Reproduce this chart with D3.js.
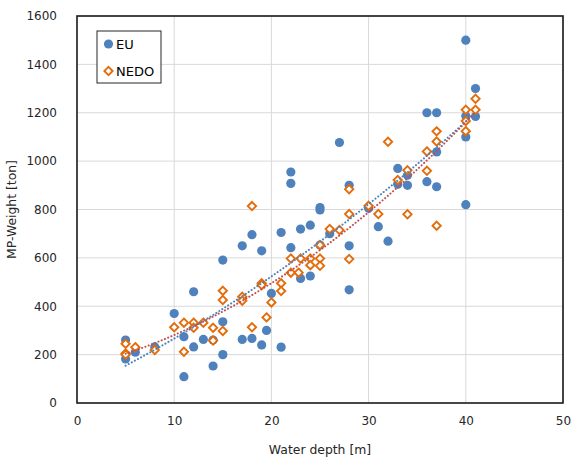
<!DOCTYPE html>
<html>
<head>
<meta charset="utf-8">
<script src="https://cdn.jsdelivr.net/npm/d3@7"></script>
<style>
  body { margin: 0; background: white; }
  svg { font-family: "DejaVu Sans", Verdana, sans-serif; }
</style>
</head>
<body>
<script>
// EU data : water depth [m] / MP weight [ton]
var euDepth  = [5, 5, 6, 8, 10, 11, 11, 12, 12, 13, 14, 14, 15, 15, 15, 17, 17, 18, 18, 19, 19, 19.5, 20, 21, 21, 22, 22, 22, 23, 23, 24, 24, 25, 25, 25, 26, 27, 28, 28, 28, 30, 31, 32, 33, 33, 34, 34, 36, 36, 37, 37, 37, 40, 40, 40, 40, 41, 41];
var euWeight = [260, 182, 210, 232, 370, 274, 109, 232, 460, 263, 153, 260, 336, 200, 591, 263, 650, 267, 696, 240, 629, 300, 453, 231, 705, 642, 955, 908, 719, 515, 735, 525, 808, 798, 653, 700, 1077, 900, 650, 468, 805, 729, 669, 970, 904, 942, 900, 1200, 915, 1200, 1038, 894, 1500, 1187, 1100, 820, 1300, 1185];

// NEDO data
var nedoDepth  = [5, 5, 5, 6, 8, 10, 11, 11, 12, 12, 13, 14, 14, 15, 15, 15, 17, 17, 18, 18, 19, 19, 19.5, 20, 21, 21, 22, 22, 23, 22.8, 24, 24, 25, 25, 25, 26, 27, 28, 28, 28, 30, 31, 32, 33, 34, 34, 36, 36, 37, 37, 37, 40, 40, 40, 41, 41];
var nedoWeight = [245, 205, 200, 231, 219, 313, 332, 212, 332, 311, 332, 311, 258, 464, 426, 298, 439, 423, 313, 814, 495, 488, 354, 416, 495, 463, 597, 539, 597, 539, 597, 570, 597, 567, 653, 719, 715, 884, 781, 595, 815, 781, 1080, 922, 962, 780, 1040, 960, 1123, 1081, 733, 1212, 1166, 1124, 1258, 1212];

var xTicks = [0, 10, 20, 30, 40, 50];
var yTicks = [0, 200, 400, 600, 800, 1000, 1200, 1400, 1600];

width = 571;
height = 459;
margin = { top: 16, right: 8, bottom: 56, left: 77 }

var euColor = "#4f81bd";
var nedoColor = "#e46c0a";
var euTrendColor = "#4f81bd";
var nedoTrendColor = "#c0504d";

// least squares, 2nd order polynomial (like excel trendline)
function polyFit(xs, ys){
    var s = [0,0,0,0,0], t = [0,0,0];
    for (var i = 0; i < xs.length; i++){
        var p = 1;
        for (var k = 0; k < 5; k++){ s[k] += p; if (k < 3) t[k] += p*ys[i]; p *= xs[i]; }
    }
    var m = [[s[0],s[1],s[2],t[0]],[s[1],s[2],s[3],t[1]],[s[2],s[3],s[4],t[2]]];
    for (var c = 0; c < 3; c++){
        for (var r = c+1; r < 3; r++){
            var f = m[r][c]/m[c][c];
            for (var j = c; j < 4; j++) m[r][j] -= f*m[c][j];
        }
    }
    var coef = [0,0,0];
    for (var r = 2; r >= 0; r--){
        var v = m[r][3];
        for (var j = r+1; j < 3; j++) v -= m[r][j]*coef[j];
        coef[r] = v/m[r][r];
    }
    return coef;
}

const svg = d3.select('body')
    .append("svg")
    .attr("width", width)
    .attr("height", height);

x = d3.scaleLinear()
    .domain([0, 50])
    .range([margin.left, width - margin.right]);

y = d3.scaleLinear()
    .domain([0, 1600])
    .range([height - margin.bottom, margin.top]);

// grid
svg.append("g")
    .selectAll("line")
    .data(yTicks.slice(1))
    .join("line")
    .attr("x1", x(0)).attr("x2", x(50))
    .attr("y1", d => y(d)).attr("y2", d => y(d))
    .attr("stroke", "#d9d9d9")
    .attr("stroke-width", 1);
svg.append("g")
    .selectAll("line")
    .data(xTicks.slice(1))
    .join("line")
    .attr("x1", d => x(d)).attr("x2", d => x(d))
    .attr("y1", y(0)).attr("y2", y(1600))
    .attr("stroke", "#d9d9d9")
    .attr("stroke-width", 1);

// axes (labels only, frame drawn below)
xAxis = g => g
    .attr("transform", `translate(0,${y(0)})`)
    .call(d3.axisBottom(x).tickValues(xTicks).tickFormat(d3.format("d")).tickSize(0).tickPadding(13))
    .call(g => g.select(".domain").remove());
yAxis = g => g
    .attr("transform", `translate(${x(0)},0)`)
    .call(d3.axisLeft(y).tickValues(yTicks).tickFormat(d3.format("d")).tickSize(0).tickPadding(20))
    .call(g => g.select(".domain").remove());

svg.append("g").call(xAxis);
svg.append("g").call(yAxis);
svg.selectAll(".tick text")
    .attr("font-family", '"DejaVu Sans", Verdana, sans-serif')
    .attr("font-size", 12)
    .attr("fill", "#262626");

// points
var eu = euDepth.map((d, i) => ({ x: d, y: euWeight[i] }));
var nedo = nedoDepth.map((d, i) => ({ x: d, y: nedoWeight[i] }));

svg.append("g")
    .selectAll("circle")
    .data(eu)
    .join("circle")
    .attr("cx", d => x(d.x))
    .attr("cy", d => y(d.y))
    .attr("r", 4.6)
    .attr("fill", euColor);

var diamond = d3.symbol().type(d3.symbolDiamond2).size(44);
svg.append("g")
    .selectAll("path")
    .data(nedo)
    .join("path")
    .attr("transform", d => `translate(${x(d.x)},${y(d.y)})`)
    .attr("d", diamond)
    .attr("fill", "white")
    .attr("stroke", nedoColor)
    .attr("stroke-width", 1.9);

// trendlines
function trend(xs, ys, color){
    var c = polyFit(xs, ys);
    var pts = d3.range(d3.min(xs), d3.max(xs) + 0.01, 0.25).map(v => [v, c[0] + c[1]*v + c[2]*v*v]);
    svg.append("path")
        .datum(pts)
        .attr("fill", "none")
        .attr("stroke", color)
        .attr("stroke-width", 2)
        .attr("stroke-linecap", "round")
        .attr("stroke-dasharray", "0.1 3.4")
        .attr("d", d3.line().x(d => x(d[0])).y(d => y(d[1])));
}
trend(euDepth, euWeight, euTrendColor);
trend(nedoDepth, nedoWeight, nedoTrendColor);

// plot frame
svg.append("rect")
    .attr("x", x(0))
    .attr("y", y(1600))
    .attr("width", x(50) - x(0))
    .attr("height", y(0) - y(1600))
    .attr("fill", "none")
    .attr("stroke", "#1a1a1a")
    .attr("stroke-width", 1.6);

// axis titles
svg.append("text")
    .attr("x", (x(0) + x(50)) / 2)
    .attr("y", 454)
    .attr("text-anchor", "middle")
    .attr("font-size", 12.4)
    .attr("fill", "#262626")
    .text("Water depth [m]");

svg.append("text")
    .attr("transform", `translate(16,${(y(0) + y(1600)) / 2}) rotate(-90)`)
    .attr("text-anchor", "middle")
    .attr("font-size", 12.4)
    .attr("fill", "#262626")
    .text("MP-Weight [ton]");

// legend
var legend = svg.append("g").attr("transform", "translate(97,31)");
legend.append("rect")
    .attr("width", 64)
    .attr("height", 52)
    .attr("fill", "white")
    .attr("stroke", "#262626")
    .attr("stroke-width", 1);
legend.append("circle")
    .attr("cx", 11.5).attr("cy", 13)
    .attr("r", 4.6)
    .attr("fill", euColor);
legend.append("path")
    .attr("transform", "translate(11.5,40)")
    .attr("d", diamond)
    .attr("fill", "white")
    .attr("stroke", nedoColor)
    .attr("stroke-width", 1.9);
legend.selectAll("text")
    .data(["EU", "NEDO"])
    .join("text")
    .attr("x", 19)
    .attr("y", (d, i) => 13 + i*27)
    .attr("dy", "0.36em")
    .attr("font-size", 13)
    .attr("fill", "#000")
    .text(d => d);
</script>
</body>
</html>
